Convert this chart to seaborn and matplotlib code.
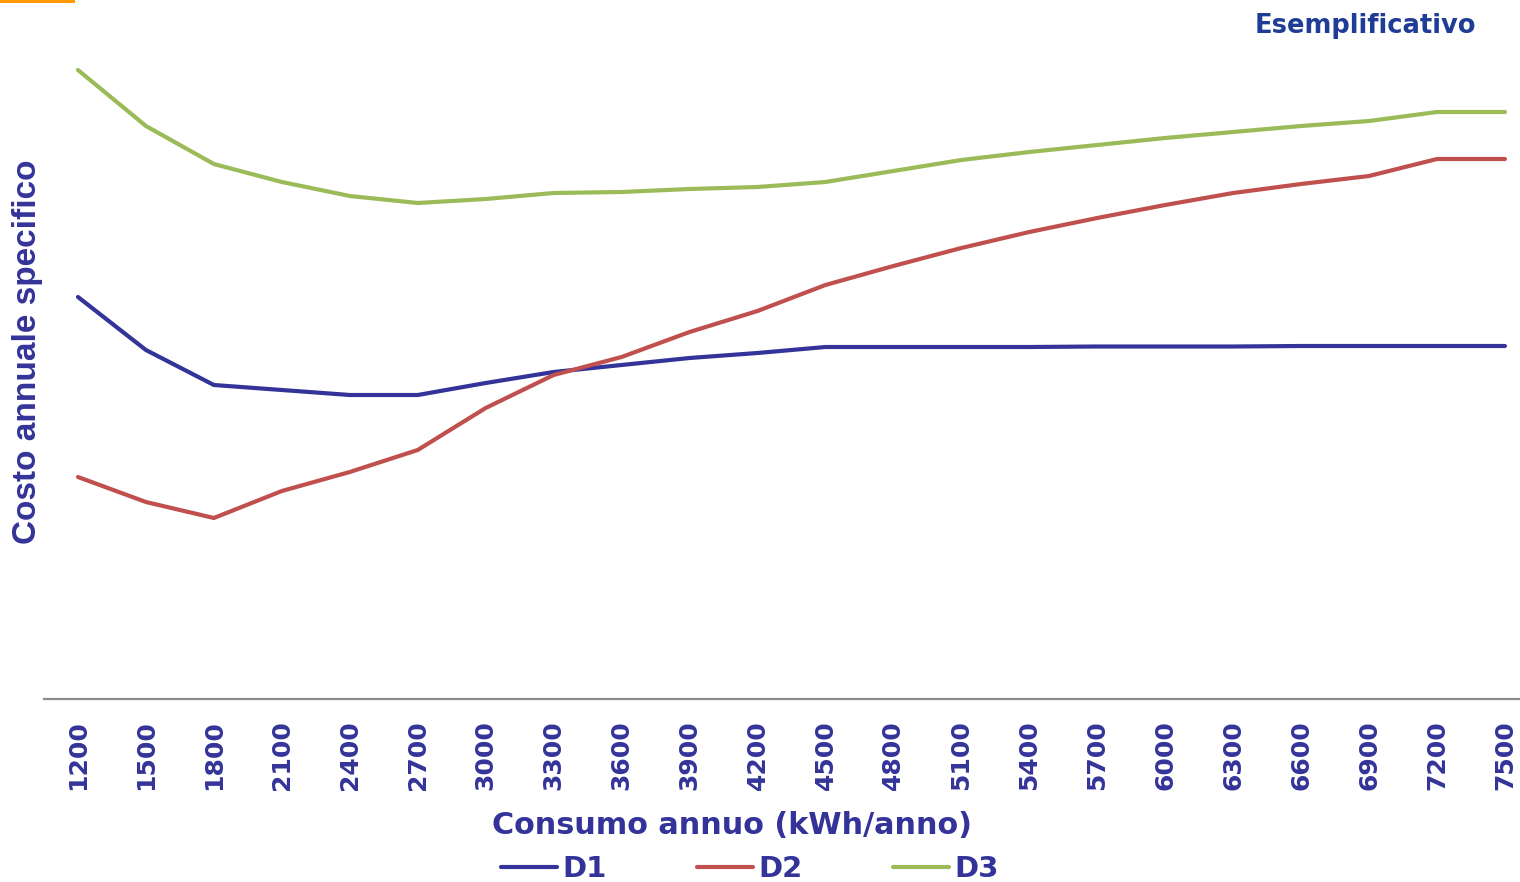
import numpy as np
import pandas as pd
import seaborn as sns
import matplotlib
matplotlib.use("Agg")
import matplotlib.pyplot as plt
from matplotlib.lines import Line2D

# Annual consumption classes (kWh/anno)
consumo = [1200, 1500, 1800, 2100, 2400, 2700, 3000, 3300, 3600, 3900, 4200,
           4500, 4800, 5100, 5400, 5700, 6000, 6300, 6600, 6900, 7200, 7500]

# Specific annual cost (index units, illustrative)
d1 = [40.2, 34.9, 31.4, 30.9, 30.4, 30.4, 31.6, 32.7, 33.4, 34.1, 34.6,
      35.2, 35.2, 35.2, 35.2, 35.25, 35.25, 35.25, 35.3, 35.3, 35.3, 35.3]
d2 = [22.2, 19.7, 18.1, 20.8, 22.7, 24.9, 29.1, 32.4, 34.2, 36.7, 38.8,
      41.4, 43.3, 45.1, 46.7, 48.1, 49.4, 50.6, 51.5, 52.3, 54.0, 54.0]
d3 = [62.9, 57.3, 53.5, 51.7, 50.3, 49.6, 50.0, 50.6, 50.7, 51.0, 51.2,
      51.7, 52.8, 53.9, 54.7, 55.4, 56.1, 56.7, 57.3, 57.8, 58.7, 58.7]

series_names = ["D1", "D2", "D3"]
palette = {"D1": "#333399", "D2": "#C0504D", "D3": "#9BBB59"}

df = pd.DataFrame({
    "consumo": consumo * 3,
    "costo": d1 + d2 + d3,
    "tariffa": np.repeat(series_names, len(consumo)),
})

sns.set_theme(style="white")
plt.rcParams["font.family"] = ["DejaVu Sans"]

W, H = 1520, 882
fig = plt.figure(figsize=(W / 100, H / 100), dpi=100)
ax = fig.add_axes([44 / W, (H - 699) / H, (W - 44) / W, 699 / H])

sns.lineplot(data=df, x="consumo", y="costo", hue="tariffa",
             hue_order=series_names, palette=palette, linewidth=3.0,
             legend=False, ax=ax, solid_capstyle="round")

step = 300
ax.set_xlim(consumo[0] - step / 2, consumo[0] + (W - 78) / 67.95 * step)
ax.set_ylim(0, 69.9)

# Axes styling: only a grey baseline, no y ticks
for side in ["left", "right", "top"]:
    ax.spines[side].set_visible(False)
ax.spines["bottom"].set_color("#8C8C8C")
ax.spines["bottom"].set_linewidth(1.6)
ax.set_yticks([])
ax.set_xticks(consumo)
ax.set_xticklabels([str(c) for c in consumo], rotation=90, fontsize=18,
                   fontweight="bold", color="#333399")
ax.tick_params(axis="x", length=0, pad=15)

ax.set_xlabel("Consumo annuo (kWh/anno)", fontsize=21.8, fontweight="bold",
              color="#333399", va="center")
ax.xaxis.set_label_coords((732 - 44) / (W - 44), (699 - 826) / 699)
ax.set_ylabel("Costo annuale specifico", fontsize=24, fontweight="bold",
              color="#333399", family=["Liberation Sans", "DejaVu Sans"],
              va="center")
ax.yaxis.set_label_coords((28 - 44) / (W - 44), (699 - 352) / 699)

# Legend below the axis title
handles = [Line2D([0], [0], color=palette[n], lw=3.0, solid_capstyle="round")
           for n in series_names]
leg = fig.legend(handles, series_names, loc="center", ncol=3, frameon=False,
                 bbox_to_anchor=(750 / W, 1 - 869 / H), fontsize=21,
                 handlelength=1.9, handletextpad=0.2, columnspacing=3.1)
for t in leg.get_texts():
    t.set_color("#333399")
    t.set_fontweight("bold")

fig.text(1476 / W, 1 - 26 / H, "Esemplificativo", ha="right", va="center",
         fontsize=18.5, fontweight="bold", color="#1F3C96")

# Orange accent at the top-left corner
fig.add_artist(plt.Rectangle((0, 1 - 3 / H), 75 / W, 3 / H,
                             transform=fig.transFigure, color="#FF9900", lw=0))

fig.savefig("out.png", dpi=100, facecolor="white")
